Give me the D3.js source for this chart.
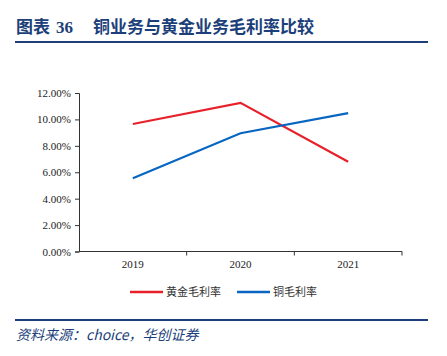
<!DOCTYPE html>
<html><head><meta charset="utf-8">
<script src="https://cdn.jsdelivr.net/npm/d3@7"></script>
<style>body{margin:0;background:#fff}svg{display:block}</style>
</head><body>
<svg id="c" width="447" height="356"></svg>
<script>
const categories = ["2019", "2020", "2021"];
const goldMargin = [9.65, 11.25, 6.8];
const copperMargin = [5.55, 8.95, 10.48];
const yTicks = [0, 2, 4, 6, 8, 10, 12];
const seriesNames = ["黄金毛利率", "铜毛利率"];

const svg = d3.select("#c");
const navy = "#1c3f7a";
const serif = "'Liberation Serif','DejaVu Serif',serif";
const cjk = "'Noto Sans CJK SC',sans-serif";

// title
const t = svg.append("text").attr("y", 33).attr("fill", navy)
  .attr("font-weight", "bold").attr("font-size", 17);
t.append("tspan").attr("x", 16).style("font-family", cjk).text("图表");
t.append("tspan").attr("x", 56).style("font-family", serif).text("36");
t.append("tspan").attr("x", 93).style("font-family", cjk).text("铜业务与黄金业务毛利率比较");
svg.append("line").attr("x1", 15).attr("x2", 428).attr("y1", 42).attr("y2", 42)
  .attr("stroke", navy).attr("stroke-width", 2);

const x = d3.scaleBand().domain(categories).range([79, 402]);
const y = d3.scaleLinear().domain([0, 12]).range([251.5, 93]);

const yAxis = svg.append("g").attr("transform", "translate(79,0)")
  .call(d3.axisLeft(y).tickValues(yTicks).tickSize(4).tickPadding(4)
    .tickFormat(d => d.toFixed(2) + "%"));
yAxis.selectAll("text").style("font-family", serif).attr("font-size", 11).attr("fill", "#222");
yAxis.selectAll("line,path").attr("stroke", "#333");

const xAxis = svg.append("g").attr("transform", "translate(0,251.5)")
  .call(d3.axisBottom(x).tickSize(0).tickPadding(9));
xAxis.select(".domain").attr("stroke", "#333").attr("d", "M79,0H402");
xAxis.selectAll("text").style("font-family", serif).attr("font-size", 11).attr("fill", "#222");
const bounds = categories.map(c => x(c)).slice(1).concat([x.range()[1]]);
xAxis.selectAll(".bt").data(bounds).enter().append("line")
  .attr("x1", d => d).attr("x2", d => d).attr("y1", 0).attr("y2", 4).attr("stroke", "#333");

const line = d3.line().x((d, i) => x(categories[i]) + x.bandwidth() / 2).y(d => y(d));
svg.append("path").datum(goldMargin).attr("d", line).attr("fill", "none")
  .attr("stroke", "#e8202a").attr("stroke-width", 2.2);
svg.append("path").datum(copperMargin).attr("d", line).attr("fill", "none")
  .attr("stroke", "#0866c2").attr("stroke-width", 2.2);

// legend
const leg = [{n: seriesNames[0], c: "#e8202a", x: 130}, {n: seriesNames[1], c: "#0866c2", x: 237}];
leg.forEach(l => {
  svg.append("line").attr("x1", l.x).attr("x2", l.x + 33).attr("y1", 292).attr("y2", 292)
    .attr("stroke", l.c).attr("stroke-width", 2.5);
  svg.append("text").attr("x", l.x + 36).attr("y", 296).attr("font-family", cjk)
    .attr("font-size", 11).attr("fill", "#333").text(l.n);
});

svg.append("line").attr("x1", 15).attr("x2", 428).attr("y1", 320).attr("y2", 320)
  .attr("stroke", navy).attr("stroke-width", 2);
svg.append("text").attr("x", 16).attr("y", 340).attr("fill", navy)
  .attr("font-family", cjk).attr("font-style", "italic").attr("font-size", 14)
  .text("资料来源：choice，华创证券");
</script>
</body></html>
